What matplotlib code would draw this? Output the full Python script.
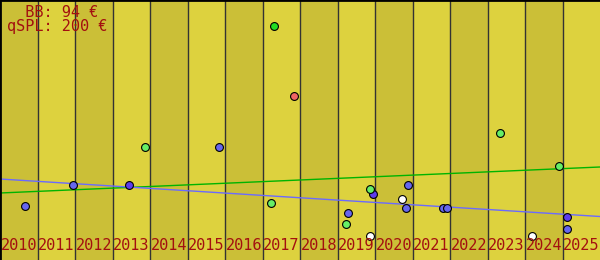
import matplotlib
matplotlib.use("Agg")
import matplotlib.pyplot as plt

years = list(range(2010, 2026))

# points, x as decimal year, y in chart units (0 = bottom, 260 = top)
blue_x = [2010.67, 2011.95, 2015.84, 2019.28, 2020.88, 2020.83, 2021.81, 2021.92, 2025.12]
blue_y = [54, 75, 113, 47, 75, 52, 52, 52, 31]
purple_x = [2013.44, 2019.95, 2025.12]
purple_y = [75, 66, 43]
lgreen_x = [2013.87, 2017.23, 2019.87, 2019.23, 2023.33, 2024.91]
lgreen_y = [113, 57, 71, 36, 127, 94]
green_x = [2017.31]
green_y = [234]
red_x = [2017.84]
red_y = [164]
white_x = [2019.87, 2020.72, 2024.19]
white_y = [24, 61, 24]

# trend lines
green_line_x = [2010, 2026]
green_line_y = [67, 93]
blue_line_x = [2010, 2026]
blue_line_y = [81, 43.5]

label_bb = "  BB: 94 €"
label_qspl = "qSPL: 200 €"

light = "#ddd23e"
dark = "#cbbf37"
txtcol = "#a31010"

fig = plt.figure(figsize=(6, 2.6), dpi=100)
ax = fig.add_axes([0, 0, 1, 1])
ax.set_facecolor(light)
ax.set_xlim(2010, 2026)
ax.set_ylim(0, 260)

for y in years:
    if (y - 2010) % 2 == 0:
        ax.axvspan(y, y + 1, color=dark, lw=0, zorder=0)
    if y > 2010:
        ax.axvline(y, color="#333333", lw=1, zorder=1)
    ax.text(y + 0.02, 10, str(y), family="DejaVu Sans Mono", fontsize=11,
            color=txtcol, ha="left", va="baseline", zorder=5)

ax.plot(green_line_x, green_line_y, color="#00b400", lw=1, zorder=2)
ax.plot(blue_line_x, blue_line_y, color="#6a6aff", lw=1, zorder=2)

def pts(xs, ys, c):
    ax.scatter(xs, ys, s=32, c=c, edgecolors="black", linewidths=0.8, zorder=4)

pts(blue_x, blue_y, "#6666ee")
pts(purple_x, purple_y, "#5c3cee")
pts(lgreen_x, lgreen_y, "#66ee66")
pts(green_x, green_y, "#22dd22")
pts(red_x, red_y, "#f06464")
pts(white_x, white_y, "#ffffff")

ax.text(0.0117, 0.935, label_bb, transform=ax.transAxes, family="DejaVu Sans Mono",
        fontsize=11, color=txtcol, ha="left", va="baseline", zorder=5)
ax.text(0.0117, 0.881, label_qspl, transform=ax.transAxes, family="DejaVu Sans Mono",
        fontsize=11, color=txtcol, ha="left", va="baseline", zorder=5)

ax.set_xticks([])
ax.set_yticks([])
for s in ["right", "bottom"]:
    ax.spines[s].set_visible(False)
ax.spines["top"].set_linewidth(2)
ax.spines["left"].set_linewidth(2)

fig.savefig("out.png", dpi=100)
